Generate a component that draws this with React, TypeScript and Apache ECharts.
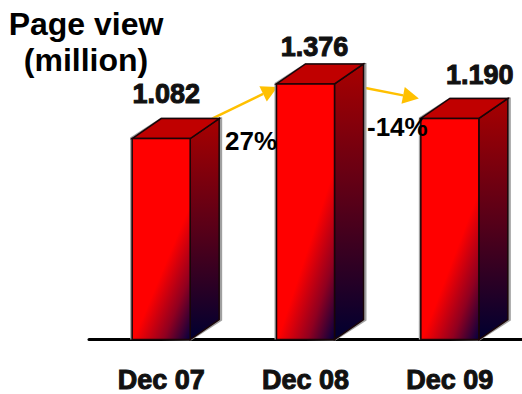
import React, { useEffect, useRef } from "react";
import * as echarts from "echarts";

const categories = ["Dec 07", "Dec 08", "Dec 09"];
const pageViews = [1.082, 1.376, 1.19];
const valueLabels = ["1.082", "1.376", "1.190"];
const growthLabels = ["27%", "-14%"];

const FONT = '"Liberation Sans", Arial, sans-serif';
const DEPTH_X = 29;
const DEPTH_Y = 20;
const BAR_WIDTH = 58;
// Per-bar nudges for the value captions, relative to the top of the front face.
const labelNudge = [
  [5, -45],
  [9, -37],
  [30, -43],
];

const stroke = "#1a0508";
// The front face stays pure red over its upper left and falls to navy in the lower right corner.
const frontFill = new echarts.graphic.LinearGradient(0, 0, 0.79, 1.15, [
  { offset: 0, color: "#ff0000" },
  { offset: 0.6, color: "#ff0000" },
  { offset: 0.81, color: "#900020" },
  { offset: 1, color: "#000040" },
]);
const sideFill = new echarts.graphic.LinearGradient(0, 0, 0, 1, [
  { offset: 0, color: "#a80000" },
  { offset: 0.5, color: "#580018" },
  { offset: 1, color: "#000030" },
]);

function renderBar(_params: any, api: any) {
  const [cx, top] = api.coord([api.value(0), api.value(1)]);
  const [, base] = api.coord([api.value(0), 0]);
  const l = cx - BAR_WIDTH / 2;
  const r = cx + BAR_WIDTH / 2;
  const poly = (points: number[][], fill: any, z2 = 0, line = true) => ({
    type: "polygon",
    z2,
    shape: { points },
    style: { fill, stroke: line ? stroke : "none", lineWidth: 1.5 },
  });
  return {
    type: "group",
    children: [
      // Soft grey edge around the block
      poly(
        [
          [r + 1, base + 1],
          [r + DEPTH_X + 3, base - DEPTH_Y + 1],
          [r + DEPTH_X + 3, top - DEPTH_Y - 1],
          [l + DEPTH_X, top - DEPTH_Y - 1],
          [l - 2, top - 1],
          [l - 2, base],
        ],
        "#a0a0a0",
        0,
        false,
      ),
      poly(
        [
          [r, top],
          [r + DEPTH_X, top - DEPTH_Y],
          [r + DEPTH_X, base - DEPTH_Y],
          [r, base],
        ],
        sideFill,
        1,
      ),
      poly(
        [
          [l, top],
          [l + DEPTH_X, top - DEPTH_Y],
          [r + DEPTH_X, top - DEPTH_Y],
          [r, top],
        ],
        "#c00000",
        1,
      ),
      poly(
        [
          [l, top],
          [r, top],
          [r, base],
          [l, base],
        ],
        frontFill,
        2,
      ),
    ],
  };
}

function renderValueLabel(params: any, api: any) {
  const [cx, top] = api.coord([api.value(0), api.value(1)]);
  const [dx, dy] = labelNudge[params.dataIndex];
  return {
    type: "text",
    style: {
      x: cx + dx,
      y: top + dy,
      text: valueLabels[params.dataIndex],
      font: `bold 27px ${FONT}`,
      fill: "#111",
      stroke: "#111",
      lineWidth: 1,
      align: "center",
      verticalAlign: "middle",
    },
  };
}

// Growth arrows run between consecutive bars and pass behind the bar they reach.
function renderArrow(params: any, api: any) {
  const i = params.dataIndex;
  const [cx0, top0] = api.coord([i, pageViews[i]]);
  const [cx1, top1] = api.coord([i + 1, pageViews[i + 1]]);
  const rising = pageViews[i + 1] > pageViews[i];
  const start = rising ? [cx0 + 51, top0 - 20] : [cx0 + 60, top0 + 4];
  const tip = rising ? [cx1 - 28, top1 + 3] : [cx1 - 31, top1 - 20];
  const ang = Math.atan2(tip[1] - start[1], tip[0] - start[0]);
  const len = 16;
  const half = 8.5;
  const bx = tip[0] - Math.cos(ang) * len;
  const by = tip[1] - Math.sin(ang) * len;
  const nx = -Math.sin(ang) * half;
  const ny = Math.cos(ang) * half;
  return {
    type: "group",
    children: [
      {
        type: "line",
        shape: { x1: start[0], y1: start[1], x2: bx, y2: by },
        style: { stroke: "#ffc000", lineWidth: 2.5 },
      },
      {
        type: "polygon",
        shape: {
          points: [tip, [bx + nx, by + ny], [bx - nx, by - ny]],
        },
        style: { fill: "#ffc000" },
      },
    ],
  };
}

export default function App() {
  const ref = useRef<HTMLDivElement>(null);
  useEffect(() => {
    const chart = echarts.init(ref.current!, undefined, { renderer: "svg" });
    const barData = categories.map((_, i) => [i, pageViews[i]]);
    chart.setOption({
      animation: false,
      backgroundColor: "#ffffff",
      grid: { left: 89, right: 0, top: 0, bottom: 54 },
      xAxis: {
        type: "category",
        data: categories,
        axisTick: { show: false },
        axisLine: { lineStyle: { color: "#000", width: 3 } },
        axisLabel: {
          margin: 27,
          color: "#111",
          fontFamily: FONT,
          fontWeight: "bold",
          fontSize: 27,
          textBorderColor: "#111",
          textBorderWidth: 1,
        },
      },
      yAxis: { type: "value", min: 0, max: 340 / 186, show: false },
      series: [
        {
          type: "custom",
          coordinateSystem: "cartesian2d",
          renderItem: renderArrow,
          data: [
            [0, pageViews[0]],
            [1, pageViews[1]],
          ],
          z: 1,
          silent: true,
        },
        {
          type: "custom",
          coordinateSystem: "cartesian2d",
          renderItem: renderBar,
          data: barData,
          z: 2,
          silent: true,
        },
        {
          type: "custom",
          coordinateSystem: "cartesian2d",
          renderItem: renderValueLabel,
          data: barData,
          z: 3,
          silent: true,
        },
      ],
      graphic: [
        {
          type: "text",
          z: 10,
          style: {
            x: 86,
            y: 42,
            text: "Page view\n(million)",
            font: `bold 32px ${FONT}`,
            lineHeight: 36,
            fill: "#000",
            align: "center",
            verticalAlign: "middle",
          },
        },
        {
          type: "text",
          z: 10,
          style: {
            x: 225,
            y: 141,
            text: growthLabels[0],
            font: `bold 26px ${FONT}`,
            fill: "#000",
            verticalAlign: "middle",
          },
        },
        {
          type: "text",
          z: 10,
          style: {
            x: 367,
            y: 127,
            text: growthLabels[1],
            font: `bold 26px ${FONT}`,
            fill: "#000",
            verticalAlign: "middle",
          },
        },
      ],
    });
    return () => chart.dispose();
  }, []);
  return (
    <div
      ref={ref}
      style={{ position: "fixed", left: 0, top: 0, width: 522, height: 394 }}
    />
  );
}
